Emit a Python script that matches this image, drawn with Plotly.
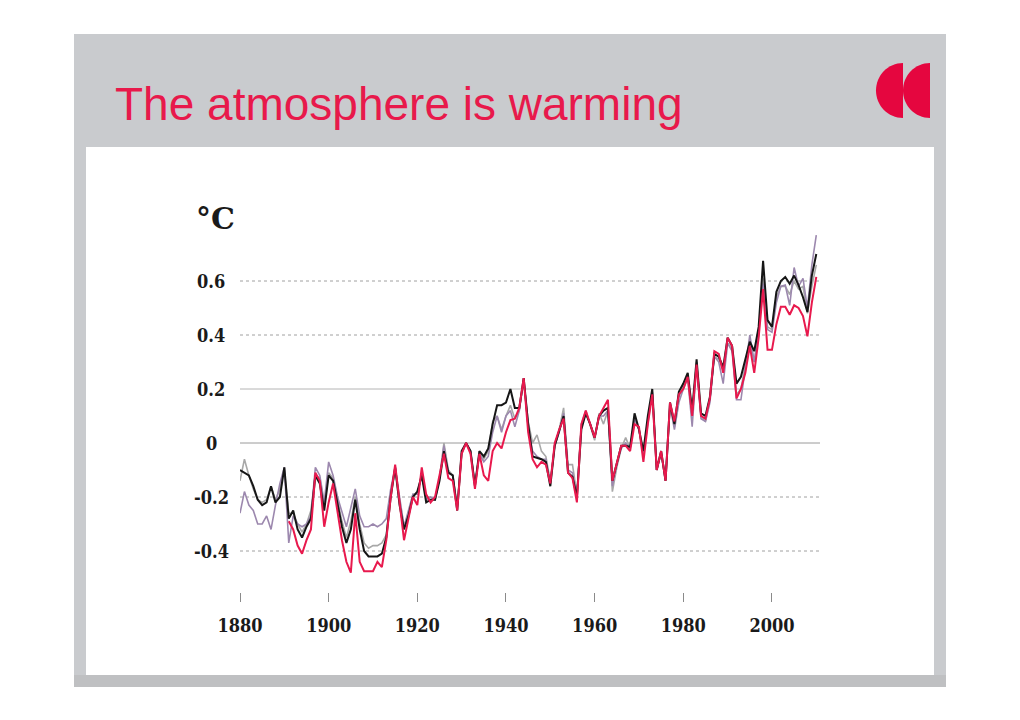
import plotly.graph_objects as go

years = list(range(1880, 2011))
years_red = list(range(1891, 2011))

black = [
    -0.10, -0.11, -0.12, -0.16, -0.21, -0.23, -0.22, -0.16, -0.22, -0.20,
    -0.09, -0.28, -0.25, -0.32, -0.35, -0.31, -0.28, -0.12, -0.15, -0.25,
    -0.12, -0.14, -0.22, -0.31, -0.37, -0.32, -0.21, -0.32, -0.40, -0.42,
    -0.42, -0.42, -0.41, -0.35, -0.20, -0.09, -0.23, -0.32, -0.27, -0.20,
    -0.18, -0.12, -0.22, -0.21, -0.21, -0.14, -0.03, -0.11, -0.12, -0.25,
    -0.03, 0.00, -0.03, -0.16, -0.03, -0.05, -0.02, 0.07, 0.14, 0.14,
    0.15, 0.20, 0.13, 0.13, 0.24, 0.07, -0.05, -0.055, -0.06, -0.07,
    -0.16, -0.01, 0.05, 0.10, -0.11, -0.125, -0.20, 0.05, 0.11, 0.07,
    0.02, 0.10, 0.12, 0.13, -0.14, -0.08, -0.01, -0.01, -0.015, 0.11,
    0.05, -0.03, 0.10, 0.20, -0.10, -0.03, -0.14, 0.15, 0.07, 0.19,
    0.22, 0.26, 0.12, 0.31, 0.11, 0.10, 0.17, 0.33, 0.32, 0.28,
    0.39, 0.36, 0.22, 0.245, 0.31, 0.375, 0.34, 0.43, 0.675, 0.455,
    0.43, 0.56, 0.60, 0.615, 0.59, 0.62, 0.585, 0.54, 0.485, 0.62, 0.70,
]

gray = [
    -0.14, -0.06, -0.12, -0.17, -0.21, -0.22, -0.21, -0.16, -0.21, -0.17,
    -0.10, -0.26, -0.26, -0.30, -0.33, -0.30, -0.25, -0.12, -0.13, -0.24,
    -0.11, -0.13, -0.21, -0.29, -0.35, -0.29, -0.20, -0.30, -0.37, -0.39,
    -0.38, -0.38, -0.37, -0.34, -0.19, -0.10, -0.21, -0.31, -0.26, -0.19,
    -0.19, -0.12, -0.20, -0.20, -0.21, -0.13, 0.00, -0.10, -0.12, -0.24,
    -0.04, 0.00, -0.03, -0.15, -0.04, -0.06, -0.03, 0.08, 0.10, 0.05,
    0.10, 0.14, 0.09, 0.12, 0.23, 0.08, 0.00, 0.03, -0.03, -0.05,
    -0.14, -0.01, 0.05, 0.13, -0.08, -0.08, -0.19, 0.07, 0.12, 0.06,
    0.01, 0.11, 0.07, 0.12, -0.18, -0.09, -0.02, 0.02, -0.02, 0.09,
    0.05, -0.05, 0.08, 0.19, -0.09, -0.04, -0.13, 0.14, 0.06, 0.17,
    0.21, 0.25, 0.11, 0.30, 0.10, 0.08, 0.16, 0.32, 0.31, 0.27,
    0.37, 0.35, 0.18, 0.20, 0.29, 0.38, 0.30, 0.40, 0.61, 0.43,
    0.42, 0.54, 0.58, 0.58, 0.55, 0.60, 0.57, 0.58, 0.48, 0.58, 0.66,
]

purple = [
    -0.26, -0.18, -0.23, -0.25, -0.30, -0.30, -0.27, -0.32, -0.23, -0.15,
    -0.09, -0.37, -0.27, -0.30, -0.31, -0.30, -0.27, -0.09, -0.12, -0.22,
    -0.07, -0.12, -0.20, -0.26, -0.31, -0.24, -0.17, -0.27, -0.31, -0.31,
    -0.30, -0.31, -0.30, -0.28, -0.17, -0.09, -0.21, -0.31, -0.25, -0.19,
    -0.19, -0.11, -0.21, -0.20, -0.21, -0.13, -0.01, -0.11, -0.12, -0.24,
    -0.04, 0.00, -0.03, -0.16, -0.04, -0.07, -0.05, 0.04, 0.10, 0.04,
    0.10, 0.12, 0.06, 0.12, 0.24, 0.06, -0.03, -0.05, -0.06, -0.06,
    -0.15, -0.01, 0.04, 0.11, -0.10, -0.11, -0.20, 0.06, 0.11, 0.07,
    0.02, 0.10, 0.10, 0.12, -0.16, -0.08, -0.02, 0.00, -0.02, 0.09,
    0.05, -0.05, 0.08, 0.19, -0.10, -0.04, -0.14, 0.14, 0.05, 0.15,
    0.20, 0.24, 0.06, 0.29, 0.09, 0.08, 0.15, 0.32, 0.30, 0.22,
    0.37, 0.34, 0.16, 0.16, 0.28, 0.40, 0.30, 0.42, 0.59, 0.42,
    0.41, 0.52, 0.58, 0.585, 0.51, 0.65, 0.58, 0.61, 0.50, 0.66, 0.77,
]

red = [
    -0.29, -0.32, -0.38, -0.41, -0.36, -0.32, -0.11, -0.14, -0.31,
    -0.22, -0.15, -0.25, -0.36, -0.44, -0.48, -0.26, -0.44, -0.475, -0.475,
    -0.475, -0.44, -0.46, -0.36, -0.20, -0.08, -0.22, -0.36, -0.28, -0.20,
    -0.23, -0.09, -0.19, -0.22, -0.20, -0.12, -0.04, -0.13, -0.14, -0.25,
    -0.04, 0.00, -0.04, -0.17, -0.04, -0.12, -0.14, -0.03, 0.00, -0.02,
    0.04, 0.085, 0.09, 0.13, 0.24, 0.04, -0.06, -0.09, -0.07, -0.08,
    -0.15, 0.00, 0.05, 0.09, -0.11, -0.13, -0.22, 0.07, 0.12, 0.07,
    0.02, 0.10, 0.13, 0.16, -0.14, -0.08, -0.01, -0.01, -0.03, 0.07,
    0.06, -0.07, 0.07, 0.18, -0.10, -0.03, -0.14, 0.15, 0.08, 0.18,
    0.20, 0.245, 0.10, 0.29, 0.10, 0.09, 0.165, 0.34, 0.33, 0.26,
    0.39, 0.36, 0.165, 0.20, 0.26, 0.36, 0.26, 0.39, 0.57, 0.345,
    0.345, 0.44, 0.505, 0.505, 0.475, 0.51, 0.50, 0.47, 0.395, 0.52, 0.615,
]

x_ticks = [1880, 1900, 1920, 1940, 1960, 1980, 2000]
x_tick_labels = ["1880", "1900", "1920", "1940", "1960", "1980", "2000"]
y_ticks = [0.6, 0.4, 0.2, 0, -0.2, -0.4]
y_tick_labels = ["0.6", "0.4", "0.2", "0", "-0.2", "-0.4"]
dotted_grid = [0.6, 0.4, -0.2, -0.4]
solid_grid = [0.2, 0]

title_text = "The atmosphere is warming"
unit_text = "°C"

# page layout (page pixel coordinates); the page body adds an 8px margin
OFF = 8
W, H = 1020 - OFF, 720 - OFF
L, R, T, B = 240, 820, 230, 592


def px(xp):
    return (xp - L) / (R - L)


def py(yp):
    return (B - yp) / (B - T)


fig = go.Figure()

series = [
    (years, gray, "#a8a8a8", 1.6),
    (years, purple, "#9c88ae", 1.6),
    (years, black, "#161616", 2.0),
    (years_red, red, "#e8194d", 2.0),
]
for xs, ys, col, w in series:
    fig.add_trace(go.Scatter(x=xs, y=ys, mode="lines",
                             line=dict(color=col, width=w),
                             hoverinfo="skip", showlegend=False))

shapes = []
# slide background
shapes.append(dict(type="rect", xref="paper", yref="paper", layer="below",
                   x0=px(74), x1=px(946), y0=py(34), y1=py(687),
                   fillcolor="#c9cbce", line=dict(width=0)))
shapes.append(dict(type="rect", xref="paper", yref="paper", layer="below",
                   x0=px(74), x1=px(946), y0=py(675), y1=py(687),
                   fillcolor="#bfc0c2", line=dict(width=0)))
shapes.append(dict(type="rect", xref="paper", yref="paper", layer="below",
                   x0=px(86), x1=px(934), y0=py(147), y1=py(675),
                   fillcolor="#ffffff", line=dict(width=0)))

# gridlines
for v in dotted_grid:
    shapes.append(dict(type="line", xref="paper", yref="y", layer="below",
                       x0=0, x1=1, y0=v, y1=v,
                       line=dict(color="#a0a0a0", width=1, dash="dot")))
for v in solid_grid:
    shapes.append(dict(type="line", xref="paper", yref="y", layer="below",
                       x0=0, x1=1, y0=v, y1=v,
                       line=dict(color="#b4b4b4" if v else "#9a9a9a", width=1)))

# logo: two half discs
k = 0.5523


def half_disc(xr, yc, rx, ry):
    pts = [
        ("M", [(xr, yc - ry)]),
        ("C", [(xr - k * rx, yc - ry), (xr - rx, yc - k * ry), (xr - rx, yc)]),
        ("C", [(xr - rx, yc + k * ry), (xr - k * rx, yc + ry), (xr, yc + ry)]),
    ]
    s = ""
    for cmd, p in pts:
        s += cmd + " " + " ".join(f"{px(a):.5f},{py(b):.5f}" for a, b in p) + " "
    return s + "Z"


for xr in (903, 930):
    shapes.append(dict(type="path", xref="paper", yref="paper",
                       path=half_disc(xr, 90.5, 27, 27.5),
                       fillcolor="#e5063f", line=dict(width=0)))

label_font = dict(family="DejaVu Serif Condensed, DejaVu Serif",
                  size=18, weight="bold", color="#1a1a1a")

annotations = []
annotations.append(dict(text=title_text, xref="paper", yref="paper",
                        x=px(113), y=py(104), xanchor="left", yanchor="middle",
                        showarrow=False,
                        font=dict(family="Liberation Sans, Arial", size=46,
                                  color="#e8194b")))
annotations.append(dict(text=unit_text, xref="paper", yref="paper",
                        x=px(215), y=py(218), xanchor="center", yanchor="middle",
                        showarrow=False,
                        font=dict(family="DejaVu Serif", size=30, weight="bold",
                                  color="#1a1a1a")))
for v, lab in zip(y_ticks, y_tick_labels):
    annotations.append(dict(text=lab, xref="paper", yref="y",
                            x=px(211), y=v, xanchor="center", yanchor="middle",
                            showarrow=False, font=label_font))

fig.update_layout(
    width=W, height=H,
    margin=dict(l=L - OFF, r=W - (R - OFF), t=T - OFF, b=H - (B - OFF), pad=0),
    paper_bgcolor="#ffffff",
    plot_bgcolor="rgba(0,0,0,0)",
    shapes=shapes,
    annotations=annotations,
    showlegend=False,
    xaxis=dict(range=[1880, 1880 + (R - L) / 4.433], showgrid=False,
               zeroline=False, showline=False,
               tickmode="array", tickvals=x_ticks, ticktext=x_tick_labels,
               ticks="outside", ticklen=9, tickwidth=1, tickcolor="#8a8a8a",
               ticklabelstandoff=8, tickfont=label_font),
    yaxis=dict(range=[(443 - B) / 270, (443 - T) / 270], showgrid=False,
               zeroline=False, showline=False, showticklabels=False,
               ticks=""),
)

fig.write_html("out.html")
